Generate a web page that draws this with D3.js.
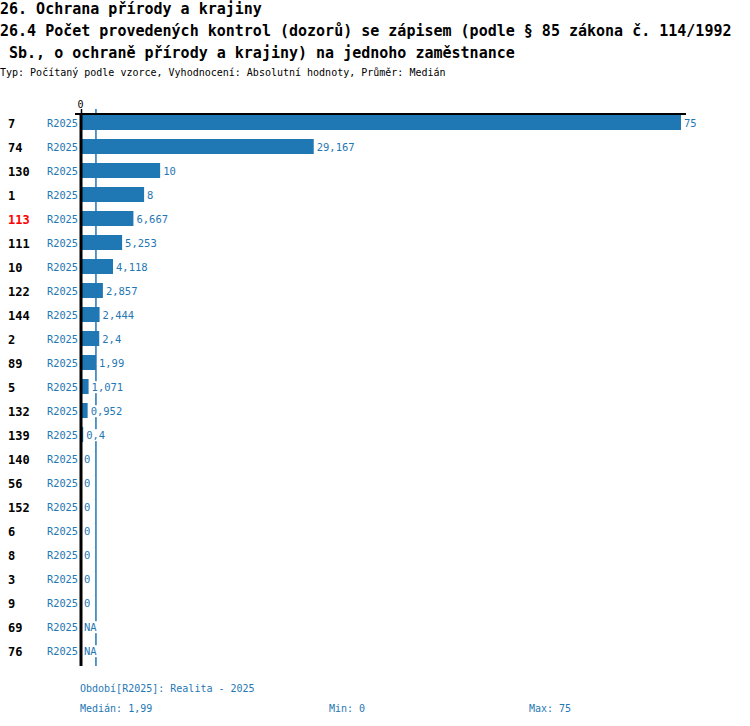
<!DOCTYPE html>
<html>
<head>
<meta charset="utf-8">
<script src="https://cdn.jsdelivr.net/npm/d3@7"></script>
<style>
  body { margin: 0; background: #fff; }
  text { font-family: "DejaVu Sans Mono", "Liberation Mono", monospace; }
</style>
</head>
<body>
<script>
// chart data
var categories = ["7","74","130","1","113","111","10","122","144","2","89","5","132","139","140","56","152","6","8","3","9","69","76"];
var values = [75, 29.167, 10, 8, 6.667, 5.253, 4.118, 2.857, 2.444, 2.4, 1.99, 1.071, 0.952, 0.4, 0, 0, 0, 0, 0, 0, 0, null, null];
var highlighted = ["113"];
var period = "R2025";
var titleLines = [
  "26. Ochrana přírody a krajiny",
  "26.4 Počet provedených kontrol (dozorů) se zápisem (podle § 85 zákona č. 114/1992",
  " Sb., o ochraně přírody a krajiny) na jednoho zaměstnance"
];
var subtitle = "Typ: Počítaný podle vzorce, Vyhodnocení: Absolutní hodnoty, Průměr: Medián";
var legendText = "Období[R2025]: Realita - 2025";
var median = 1.99, minVal = 0, maxVal = 75;

var width = 750,
    height = 726,
    blue = "#1f77b4";

var fmt = function(v) { return String(v).replace(".", ","); };

var rows = categories.map(function(c, i) { return {cat: c, value: values[i]}; });

var svg = d3.select("body").append("svg")
    .attr("width", width)
    .attr("height", height);

// titles
svg.selectAll("text.title")
    .data(titleLines)
  .enter().append("text")
    .attr("class", "title")
    .attr("x", 0)
    .attr("y", function(d, i) { return 14 + i * 22; })
    .attr("font-size", "15px")
    .attr("font-weight", "bold")
    .attr("xml:space", "preserve")
    .style("white-space", "pre")
    .text(function(d) { return d; });

svg.append("text")
    .attr("x", 0)
    .attr("y", 76)
    .attr("font-size", "10px")
    .text(subtitle);

var x = d3.scaleLinear()
    .domain([0, 75])
    .range([80, 681]);

var y = d3.scaleBand()
    .domain(categories)
    .range([110.5, 662.5]);

// median line (behind everything)
svg.append("line")
    .attr("x1", x(median)).attr("x2", x(median))
    .attr("y1", 109).attr("y2", 666)
    .attr("stroke", blue)
    .attr("stroke-width", 1.5);

// bars
svg.selectAll("rect.bar")
    .data(rows.filter(function(d) { return d.value; }))
  .enter().append("rect")
    .attr("class", "bar")
    .attr("x", x(0) + 1)
    .attr("y", function(d) { return y(d.cat) + y.bandwidth() / 2 - 7.5; })
    .attr("width", function(d) { return x(d.value) - x(0) - 1; })
    .attr("height", 15)
    .attr("fill", blue);

// value labels with white backing
var vl = svg.selectAll("g.vlabel")
    .data(rows)
  .enter().append("g")
    .attr("class", "vlabel")
    .attr("transform", function(d) {
      return "translate(" + Math.max(x(d.value || 0) + 3, 84) + "," + (y(d.cat) + y.bandwidth() / 2 + 1) + ")";
    });

vl.append("text")
    .attr("dy", "0.35em")
    .attr("font-size", "10.5px")
    .attr("fill", blue)
    .text(function(d) { return d.value === null ? "NA" : fmt(d.value); });

vl.each(function() {
  var g = d3.select(this), bb = g.select("text").node().getBBox();
  g.insert("rect", "text")
    .attr("x", bb.x).attr("y", bb.y)
    .attr("width", bb.width).attr("height", bb.height)
    .attr("fill", "#fff");
});

// category and period labels
svg.selectAll("text.cat")
    .data(rows)
  .enter().append("text")
    .attr("class", "cat")
    .attr("x", 8)
    .attr("y", function(d) { return y(d.cat) + y.bandwidth() / 2 + 1; })
    .attr("dy", "0.35em")
    .attr("font-size", "12px")
    .attr("font-weight", "bold")
    .attr("fill", function(d) { return highlighted.indexOf(d.cat) >= 0 ? "#ff0000" : "#000"; })
    .text(function(d) { return d.cat; });

svg.selectAll("text.per")
    .data(rows)
  .enter().append("text")
    .attr("class", "per")
    .attr("x", 78)
    .attr("y", function(d) { return y(d.cat) + y.bandwidth() / 2 + 1; })
    .attr("dy", "0.35em")
    .attr("text-anchor", "end")
    .attr("font-size", "10.3px")
    .attr("fill", blue)
    .text(period);

// axes
var axis = svg.append("g")
    .attr("transform", "translate(0,114)")
    .call(d3.axisTop(x).tickValues([0]).tickSize(5).tickSizeOuter(0));
axis.select(".domain").remove();
axis.selectAll(".tick line").attr("stroke", "#000").attr("stroke-width", 1.5).attr("transform", "translate(1,0)");
axis.selectAll(".tick text")
    .attr("font-family", "DejaVu Sans Mono, monospace")
    .attr("font-size", "10px")
    .attr("fill", "#000")
    .attr("dy", "0.15em");

svg.append("line")
    .attr("x1", 75).attr("x2", 686)
    .attr("y1", 114).attr("y2", 114)
    .attr("stroke", "#000")
    .attr("stroke-width", 2);

svg.append("line")
    .attr("x1", 81).attr("x2", 81)
    .attr("y1", 113).attr("y2", 666)
    .attr("stroke", "#000")
    .attr("stroke-width", 3);

// footer
svg.append("text")
    .attr("x", 80).attr("y", 692)
    .attr("font-size", "10px")
    .attr("fill", blue)
    .text(legendText);

var stats = [
  {label: "Medián: " + fmt(median), x: 80},
  {label: "Min: " + fmt(minVal), x: 329},
  {label: "Max: " + fmt(maxVal), x: 529}
];
svg.selectAll("text.stat")
    .data(stats)
  .enter().append("text")
    .attr("class", "stat")
    .attr("x", function(d) { return d.x; })
    .attr("y", 712)
    .attr("font-size", "10px")
    .attr("fill", blue)
    .text(function(d) { return d.label; });
</script>
</body>
</html>
